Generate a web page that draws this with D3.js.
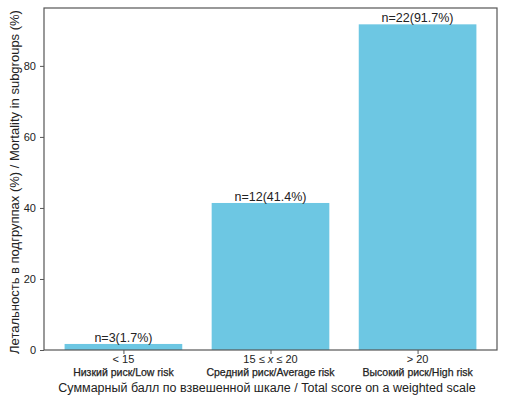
<!DOCTYPE html>
<html>
  <head>
    <meta charset="utf-8">
    <title></title>
    <style>
      body { margin: 0; background: #fff; }
      text { font-family: "Liberation Sans", Arial, sans-serif; fill: #222; }
    </style>
    <script src="https://cdnjs.cloudflare.com/ajax/libs/d3/7.8.5/d3.min.js"></script>
  </head>
  <body>
    <svg id="chart" width="506" height="400"></svg>
    <script>
var groups = [["< 15"], ["15 ≤ ", "x", " ≤ 20"], ["> 20"]];
var riskLabels = ["Низкий риск/Low risk", "Средний риск/Average risk", "Высокий риск/High risk"];
var mortality = [1.7, 41.4, 91.7];
var counts = [3, 12, 22];
var yTicks = [0, 20, 40, 60, 80];

var margin = { left: 44, right: 9, top: 8, bottom: 50 };
var width = 506, height = 400;
var svg = d3.select("#chart");

var x = d3.scaleLinear().domain([-0.54, 2.54]).range([margin.left, width - margin.right]);
var y = d3.scaleLinear().domain([0, 96.3]).range([height - margin.bottom, margin.top]);
var barW = x(0.8) - x(0);

svg.selectAll(".bar").data(mortality).enter()
  .append("rect").attr("class", "bar")
  .attr("x", function(d, i){ return x(i) - barW / 2; })
  .attr("y", function(d){ return y(d); })
  .attr("width", barW)
  .attr("height", function(d){ return y(0) - y(d); })
  .attr("fill", "#6dc7e3");

svg.selectAll(".val").data(mortality).enter()
  .append("text").attr("class", "val")
  .attr("x", function(d, i){ return x(i); })
  .attr("y", function(d){ return y(d) - 2; })
  .attr("text-anchor", "middle")
  .style("font-size", "12.5px")
  .text(function(d, i){ return "n=" + counts[i] + "(" + d + "%)"; });

// frame
svg.append("rect")
  .attr("x", margin.left).attr("y", margin.top)
  .attr("width", width - margin.right - margin.left)
  .attr("height", height - margin.bottom - margin.top)
  .attr("fill", "none").attr("stroke", "#555").attr("stroke-width", 1.2);

var yAxis = svg.append("g")
  .attr("transform", "translate(" + margin.left + ",0)")
  .call(d3.axisLeft(y).tickValues(yTicks).tickSize(4).tickPadding(4));
yAxis.select(".domain").remove();
yAxis.selectAll("text").style("font-size", "11px").style("font-family", "Liberation Sans, Arial, sans-serif").attr("fill", "#222");
yAxis.selectAll("line").attr("stroke", "#555");

var xAxis = svg.append("g")
  .attr("transform", "translate(0," + (height - margin.bottom) + ")")
  .call(d3.axisBottom(x).tickValues([0, 1, 2]).tickSize(4).tickFormat(""));
xAxis.select(".domain").remove();
xAxis.selectAll("line").attr("stroke", "#555");

var grp = svg.selectAll(".grp").data(groups).enter()
  .append("text").attr("class", "grp")
  .attr("x", function(d, i){ return x(i); })
  .attr("y", height - margin.bottom + 13)
  .attr("text-anchor", "middle")
  .style("font-size", "11px");
grp.selectAll("tspan").data(function(d){ return d; }).enter()
  .append("tspan")
  .style("font-style", function(d){ return d === "x" ? "italic" : "normal"; })
  .text(function(d){ return d; });

svg.selectAll(".risk").data(riskLabels).enter()
  .append("text").attr("class", "risk")
  .attr("x", function(d, i){ return x(i); })
  .attr("y", height - margin.bottom + 26)
  .attr("text-anchor", "middle")
  .style("font-size", "10.5px")
  .style("stroke", "#222").style("stroke-width", 0.25)
  .text(function(d){ return d; });

svg.append("text")
  .attr("x", 267)
  .attr("y", 392)
  .attr("text-anchor", "middle")
  .style("font-size", "12.5px")
  .text("Суммарный балл по взвешенной шкале / Total score on a weighted scale");

svg.append("text")
  .attr("transform", "translate(19,182) rotate(-90)")
  .attr("text-anchor", "middle")
  .style("font-size", "13px")
  .text("Летальность в подгруппах (%) / Mortality in subgroups (%)");
    </script>
  </body>
</html>
